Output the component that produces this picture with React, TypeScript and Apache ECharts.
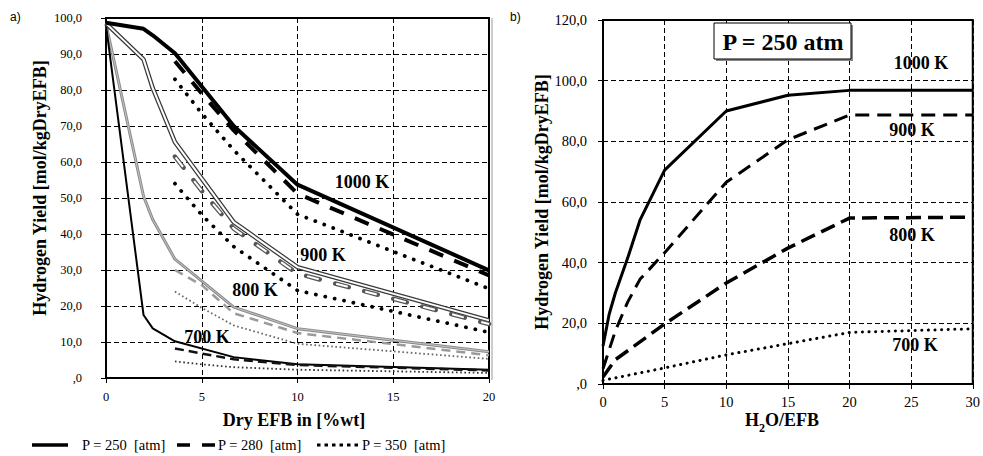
import React, { useEffect, useRef } from 'react';
import * as echarts from 'echarts';

// ---------- Panel a) : Hydrogen yield vs Dry EFB [%wt] ----------
const dryEfbP250 = [0, 1.96, 2.44, 3.6, 6.67, 10, 20];
const dryEfbHighP = [3.6, 5, 6.67, 10, 20];

const yieldA1000P250 = [98.7, 97.0, 95.2, 90.2, 70.0, 53.7, 29.9];
const yieldA900P250 = [98.5, 88.5, 80.5, 65.5, 43.3, 30.8, 16.0];
const yieldA800P250 = [98.3, 50.5, 44.0, 33.0, 19.7, 13.7, 7.3];
const yieldA700P250 = [98.0, 17.5, 13.8, 10.2, 5.8, 3.8, 2.3];

const yieldA1000P280 = [88.0, 79.0, 68.8, 51.2, 28.5];
const yieldA900P280 = [61.5, 52.0, 41.5, 29.0, 15.0];
const yieldA800P280 = [30.0, 25.8, 18.0, 12.5, 6.3];
const yieldA700P280 = [8.2, 6.8, 5.2, 3.6, 2.1];

const yieldA1000P350 = [83.0, 73.5, 63.3, 45.5, 24.8];
const yieldA900P350 = [54.0, 45.3, 36.5, 24.3, 12.7];
const yieldA800P350 = [24.0, 19.5, 14.6, 9.5, 5.3];
const yieldA700P350 = [4.6, 3.8, 3.0, 2.3, 1.4];

// ---------- Panel b) : Hydrogen yield vs H2O/EFB at P = 250 atm ----------
const ratioB1000 = [0, 0.5, 1, 2, 3, 5, 10, 15, 20, 30];
const yieldB1000 = [12.5, 23, 30, 41.5, 54, 70.5, 90, 95.2, 96.8, 96.8];
const ratioB900 = [0, 1, 2, 3, 5, 10, 15, 20, 30];
const yieldB900 = [5, 17.5, 27, 34.5, 43.3, 66.5, 80.5, 88.7, 88.7];
const ratioB800 = [0, 1, 5, 10, 15, 20, 30];
const yieldB800 = [2.3, 8, 19.8, 33.3, 44.8, 54.7, 55];
const ratioB700 = [0, 5, 10, 15, 20, 30];
const yieldB700 = [1.2, 5.3, 9.6, 13.3, 17, 18.2];

// axis ranges
const axisA = { xMin: 0, xMax: 20, xStep: 5, yMin: 0, yMax: 100, yStep: 10 };
const axisB = { xMin: 0, xMax: 30, xStep: 5, yMin: 0, yMax: 120, yStep: 20 };

const tempLabels = ['1000 K', '900 K', '800 K', '700 K'];
const legendLabels = ['P = 250  [atm]', 'P = 280  [atm]', 'P = 350  [atm]'];

const SERIF = '"Liberation Serif", "Times New Roman", serif';

const zip = (xs: number[], ys: number[]) => xs.map((x, i) => [x, ys[i]]);
const fmtY = (v: number) => (v === 0 ? ',0' : v.toFixed(1).replace('.', ','));

function line(name: string, idx: number, data: number[][], ls: any, z = 2) {
  return {
    type: 'line',
    name,
    xAxisIndex: idx,
    yAxisIndex: idx,
    data,
    symbol: 'none',
    silent: true,
    z,
    lineStyle: ls,
  };
}

function axisCommon(fontSize: number, margin: number) {
  return {
    axisLine: { show: true, onZero: false, lineStyle: { color: '#000', width: 2 } },
    axisTick: { show: true, inside: false, length: 5, lineStyle: { color: '#000', width: 1 } },
    splitLine: { show: true, lineStyle: { color: '#000', width: 1, type: [5, 3] } },
    axisLabel: { color: '#000', fontFamily: SERIF, fontSize, margin },
  };
}

export default function App() {
  const ref = useRef<HTMLDivElement>(null);

  useEffect(() => {
    if (!ref.current) return;
    const chart = echarts.init(ref.current, null, { renderer: 'svg' });

    const series: any[] = [
      // ---- panel a) ----
      // 800 K
      line('800K-250', 0, zip(dryEfbP250, yieldA800P250), { color: '#8a8a8a', width: 3 }),
      line('800K-250i', 0, zip(dryEfbP250, yieldA800P250), { color: '#c4c4c4', width: 1 }),
      line('800K-280', 0, zip(dryEfbHighP, yieldA800P280), { color: '#9a9a9a', width: 2.5, type: [9, 6] }),
      line('800K-350', 0, zip(dryEfbHighP, yieldA800P350), { color: '#666', width: 1.8, type: [1.6, 2.6] }),
      // 700 K
      line('700K-250', 0, zip(dryEfbP250, yieldA700P250), { color: '#000', width: 2 }),
      line('700K-280', 0, zip(dryEfbHighP, yieldA700P280), { color: '#111', width: 2.5, type: [9, 5] }),
      line('700K-350', 0, zip(dryEfbHighP, yieldA700P350), { color: '#333', width: 1.8, type: [1.6, 2.6] }),
      // 900 K (double lines)
      line('900K-250', 0, zip(dryEfbP250, yieldA900P250), { color: '#3a3a3a', width: 4.5 }),
      line('900K-250i', 0, zip(dryEfbP250, yieldA900P250), { color: '#fff', width: 2 }),
      line('900K-280', 0, zip(dryEfbHighP, yieldA900P280), { color: '#555', width: 4.5, type: [14, 16], cap: 'round' }),
      line('900K-280i', 0, zip(dryEfbHighP, yieldA900P280), { color: '#fff', width: 2, type: [12, 18], dashOffset: -1 }),
      line('900K-350', 0, zip(dryEfbHighP, yieldA900P350), { color: '#000', width: 3.8, type: [0.1, 9.5], cap: 'round' }),
      // 1000 K
      line('1000K-250', 0, zip(dryEfbP250, yieldA1000P250), { color: '#000', width: 4 }, 3),
      line('1000K-280', 0, zip(dryEfbHighP, yieldA1000P280), { color: '#000', width: 4, type: [15, 12] }, 3),
      line('1000K-350', 0, zip(dryEfbHighP, yieldA1000P350), { color: '#000', width: 3.8, type: [0.1, 9.5], cap: 'round' }, 3),
      // ---- panel b) ----
      line('b-1000K', 1, zip(ratioB1000, yieldB1000), { color: '#000', width: 3 }),
      line('b-900K', 1, zip(ratioB900, yieldB900), { color: '#000', width: 3, type: [14, 8] }),
      line('b-800K', 1, zip(ratioB800, yieldB800), { color: '#000', width: 3.5, type: [15, 7] }),
      line('b-700K', 1, zip(ratioB700, yieldB700), { color: '#000', width: 3, type: [0.1, 6.5], cap: 'round' }),
    ];

    const boldText = (text: string, x: number, y: number, size = 18) => ({
      type: 'text',
      x,
      y,
      silent: true,
      style: { text, fontFamily: SERIF, fontWeight: 'bold', fontSize: size, fill: '#000', align: 'center', verticalAlign: 'middle' },
    });

    const graphic: any[] = [
      // panel letters
      { type: 'text', x: 10, y: 17, style: { text: 'a)', fontFamily: '"Liberation Sans", Arial, sans-serif', fontSize: 12, fill: '#000', align: 'left', verticalAlign: 'middle' } },
      { type: 'text', x: 510, y: 17, style: { text: 'b)', fontFamily: '"Liberation Sans", Arial, sans-serif', fontSize: 12, fill: '#000', align: 'left', verticalAlign: 'middle' } },
      // separator
      { type: 'line', shape: { x1: 492, y1: 18, x2: 492, y2: 380 }, style: { stroke: '#999', lineWidth: 1 } },
      // axis titles
      { ...boldText('Hydrogen Yield [mol/kgDryEFB]', 40, 188), rotation: Math.PI / 2 },
      { ...boldText('Hydrogen Yield [mol/kgDryEFB]', 542, 202), rotation: Math.PI / 2 },
      boldText('Dry EFB in [%wt]', 294, 420),
      {
        type: 'text',
        x: 782,
        y: 420,
        silent: true,
        style: {
          text: '{a|H}{b|2}{a|O/EFB}',
          align: 'center',
          verticalAlign: 'middle',
          rich: {
            a: { fontFamily: SERIF, fontWeight: 'bold', fontSize: 18, fill: '#000', lineHeight: 18, verticalAlign: 'bottom' },
            b: { fontFamily: SERIF, fontWeight: 'bold', fontSize: 12, fill: '#000', lineHeight: 12, verticalAlign: 'bottom', padding: [0, 0, -5, 0] },
          },
        },
      },
      // temperature labels panel a)
      boldText(tempLabels[0], 362, 182),
      boldText(tempLabels[1], 323, 255),
      boldText(tempLabels[2], 255, 290),
      boldText(tempLabels[3], 207, 337),
      // temperature labels panel b)
      boldText(tempLabels[0], 921, 63),
      boldText(tempLabels[1], 912, 130),
      boldText(tempLabels[2], 912, 235),
      boldText(tempLabels[3], 915, 345),
      // P = 250 atm box
      { type: 'rect', shape: { x: 716, y: 25, width: 137, height: 36 }, style: { fill: '#888', stroke: 'none' }, z: 10 },
      { type: 'rect', shape: { x: 714, y: 23, width: 137, height: 36 }, style: { fill: '#fff', stroke: '#000', lineWidth: 1 }, z: 11 },
      { ...boldText('P = 250 atm', 783, 42, 24), z: 12 },
      // legend
      { type: 'line', shape: { x1: 32, y1: 445, x2: 68, y2: 445 }, style: { stroke: '#000', lineWidth: 3.5 } },
      { type: 'text', x: 82, y: 445, style: { text: legendLabels[0], fontFamily: SERIF, fontSize: 14.5, fill: '#000', align: 'left', verticalAlign: 'middle' } },
      { type: 'line', shape: { x1: 177, y1: 445, x2: 215, y2: 445 }, style: { stroke: '#000', lineWidth: 3.5, lineDash: [13, 12] } },
      { type: 'text', x: 218, y: 445, style: { text: legendLabels[1], fontFamily: SERIF, fontSize: 14.5, fill: '#000', align: 'left', verticalAlign: 'middle' } },
      { type: 'line', shape: { x1: 317, y1: 445, x2: 360, y2: 445 }, style: { stroke: '#000', lineWidth: 3, lineDash: [3.5, 4] } },
      { type: 'text', x: 362, y: 445, style: { text: legendLabels[2], fontFamily: SERIF, fontSize: 14.5, fill: '#000', align: 'left', verticalAlign: 'middle' } },
    ];

    const ca = axisCommon(12.5, 12);
    const cb = axisCommon(14.5, 10);

    chart.setOption({
      animation: false,
      backgroundColor: '#fff',
      textStyle: { fontFamily: SERIF },
      grid: [
        { left: 106, right: 494, top: 18, bottom: 78, show: true, borderColor: '#000', borderWidth: 2, backgroundColor: 'transparent' },
        { left: 603, right: 9, top: 20, bottom: 72, show: true, borderColor: '#000', borderWidth: 2, backgroundColor: 'transparent' },
      ],
      xAxis: [
        { type: 'value', gridIndex: 0, min: axisA.xMin, max: axisA.xMax, interval: axisA.xStep, ...ca },
        { type: 'value', gridIndex: 1, min: axisB.xMin, max: axisB.xMax, interval: axisB.xStep, ...cb },
      ],
      yAxis: [
        {
          type: 'value', gridIndex: 0, min: axisA.yMin, max: axisA.yMax, interval: axisA.yStep, ...ca,
          axisLabel: { ...ca.axisLabel, margin: 24, formatter: fmtY },
        },
        {
          type: 'value', gridIndex: 1, min: axisB.yMin, max: axisB.yMax, interval: axisB.yStep, ...cb,
          axisLabel: { ...cb.axisLabel, margin: 16, formatter: fmtY },
        },
      ],
      series,
      graphic,
    });

    return () => chart.dispose();
  }, []);

  return <div ref={ref} style={{ position: 'absolute', left: 0, top: 0, width: 983, height: 456 }} />;
}
